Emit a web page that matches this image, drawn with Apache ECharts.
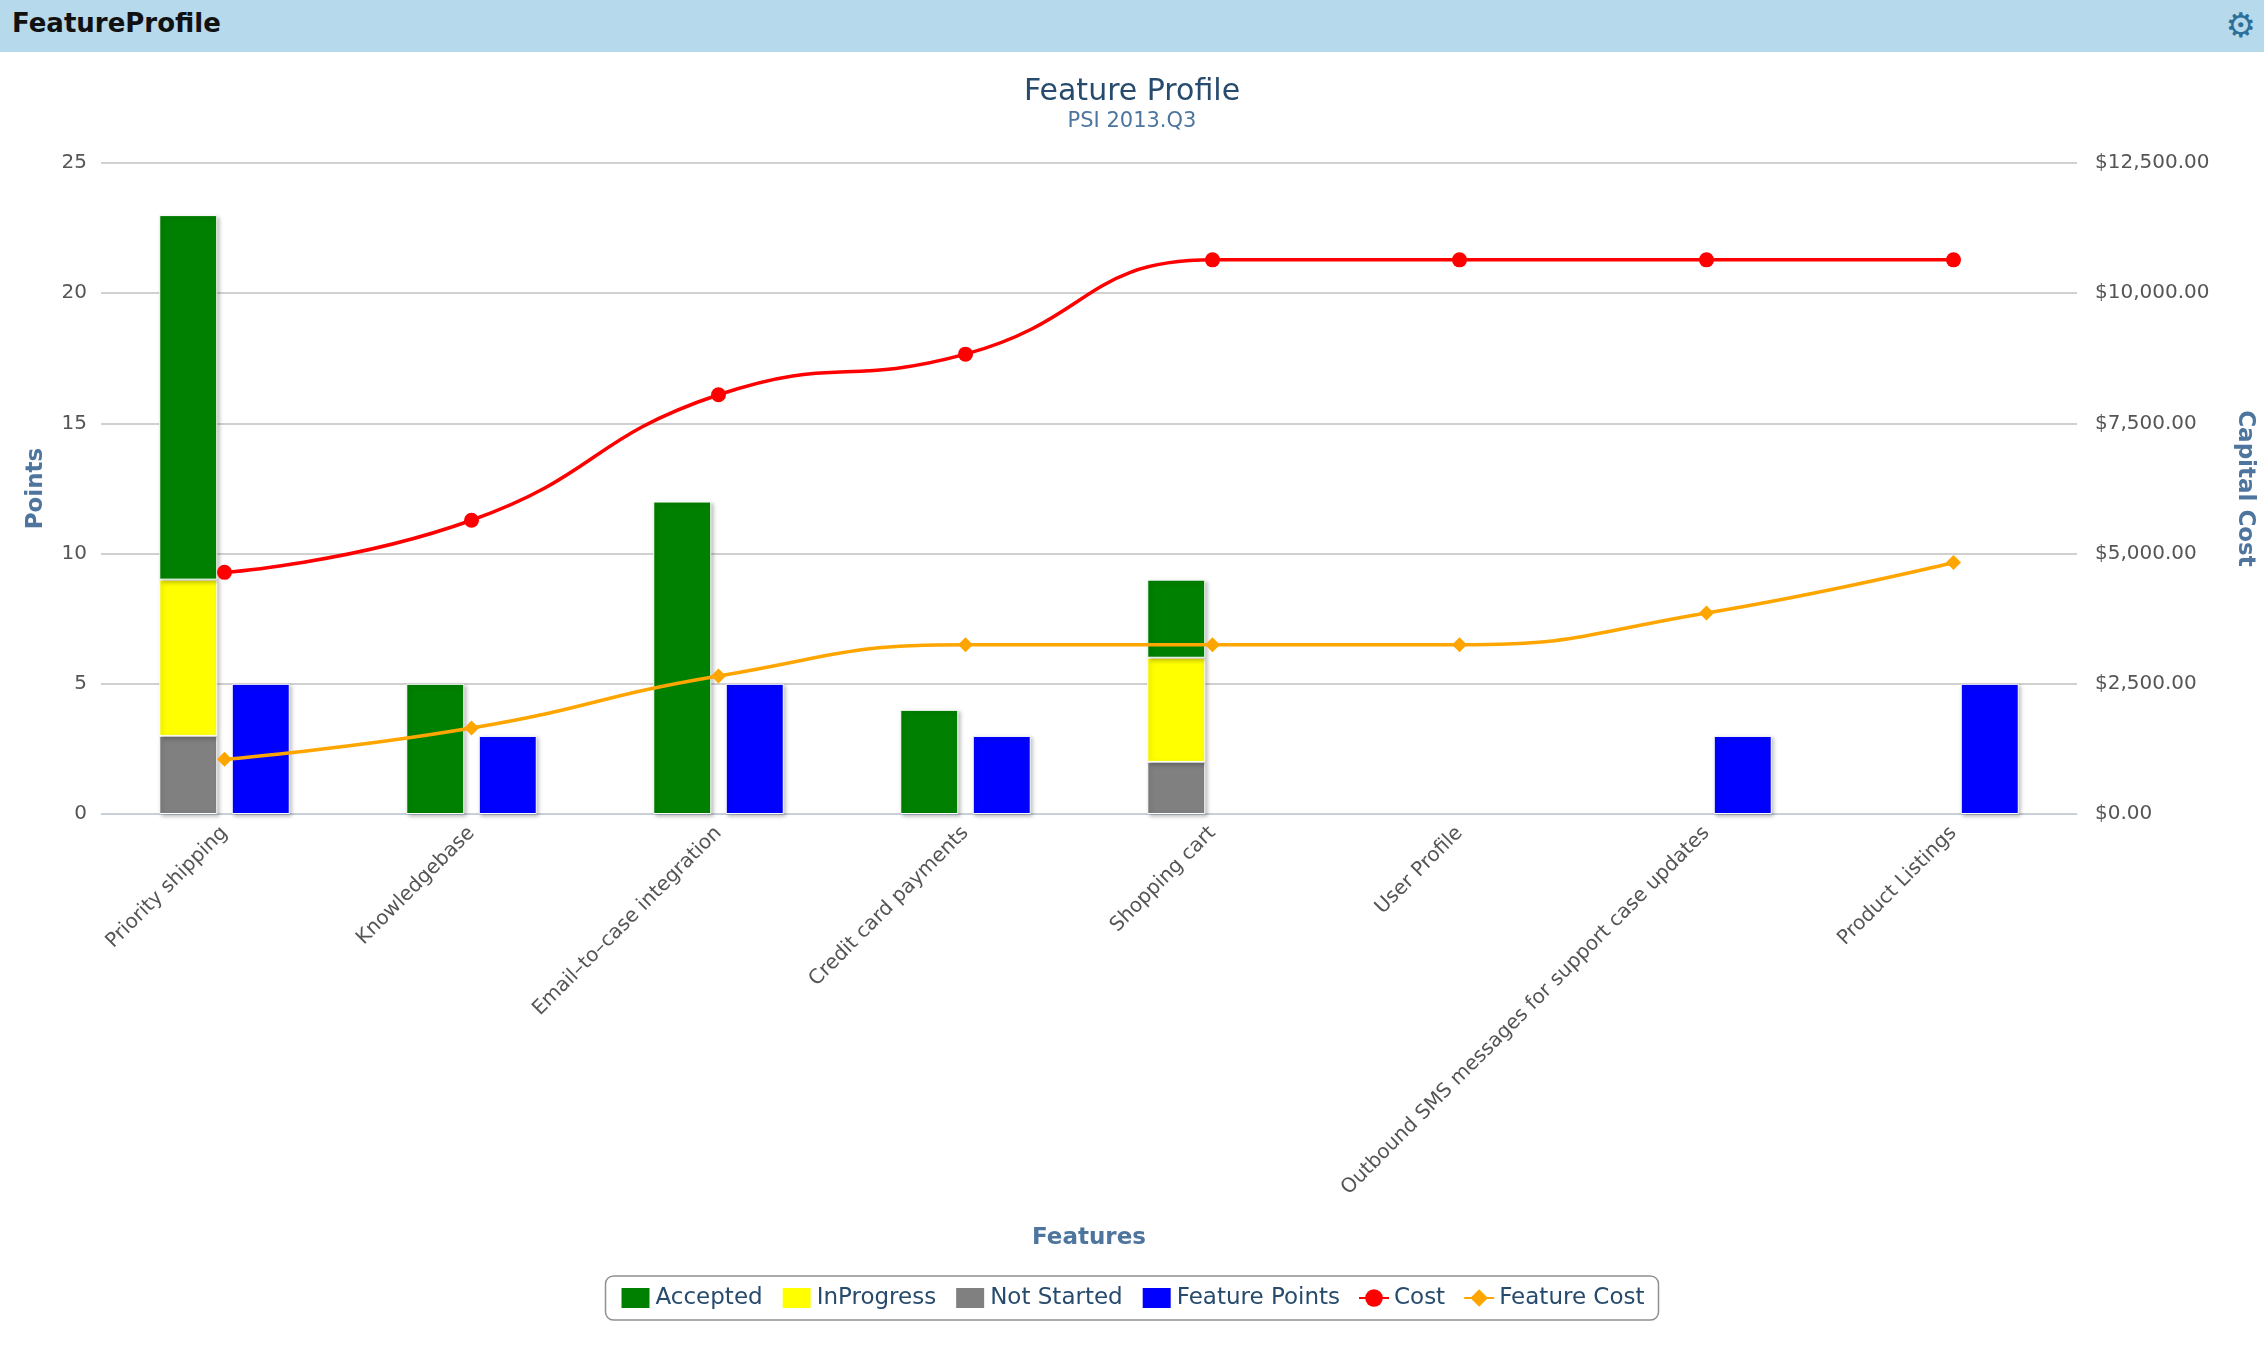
<!DOCTYPE html>
<html>
<head>
<meta charset="utf-8">
<script src="https://cdn.jsdelivr.net/npm/echarts@6/dist/echarts.min.js"></script>
<style>
  html, body { margin: 0; padding: 0; background: #fff; }
  #header { height: 52px; background: #b6d9eb; font: bold 26px 'DejaVu Sans', sans-serif; line-height: 46px; padding-left: 12px; color: #111; position: relative; }
  #gear { position: absolute; right: 8px; top: 2px; font-size: 34px; color: #2d6f99; }
  #chart { width: 2264px; height: 1294px; }
</style>
</head>
<body>
<div id="header">FeatureProfile<span id="gear">⚙</span></div>
<div id="chart"></div>
<script>
const categories = ['Priority shipping', 'Knowledgebase', 'Email–to–case integration', 'Credit card payments',
  'Shopping cart', 'User Profile', 'Outbound SMS messages for support case updates', 'Product Listings']
const accepted = [14, 5, 12, 4, 3, 0, 0, 0]
const inProgress = [6, 0, 0, 0, 4, 0, 0, 0]
const notStarted = [3, 0, 0, 0, 2, 0, 0, 0]
const featurePoints = [5, 3, 5, 3, 0, 0, 3, 5]
const cost = [4640, 5640, 8050, 8830, 10640, 10640, 10640, 10640]
const featureCost = [1050, 1650, 2650, 3250, 3250, 3250, 3860, 4830]

const font = 'DejaVu Sans'
const barItem = { borderColor: '#fff', borderWidth: 1, shadowColor: 'rgba(0,0,0,0.25)', shadowBlur: 4, shadowOffsetX: 2, shadowOffsetY: 2 }
const blank = v => v.map(x => (x === 0 ? '-' : x))

const myChart = echarts.init(document.getElementById('chart'))
const option = {
  animation: false,
  textStyle: { fontFamily: font },
  title: {
    text: 'Feature Profile', subtext: 'PSI 2013.Q3', left: 'center', top: 20, itemGap: 4,
    textStyle: { fontSize: 30, fontWeight: 'normal', color: '#274b6d', fontFamily: font },
    subtextStyle: { fontSize: 21, color: '#4d759e', fontFamily: font }
  },
  legend: {
    bottom: 26, left: 'center', itemWidth: 30, itemHeight: 22, itemGap: 18,
    borderColor: '#909090', borderWidth: 1.5, borderRadius: 8, padding: [10, 14],
    textStyle: { fontSize: 23, color: '#274b6d' },
    data: [
      { name: 'Accepted', icon: 'rect' }, { name: 'InProgress', icon: 'rect' },
      { name: 'Not Started', icon: 'rect' }, { name: 'Feature Points', icon: 'rect' },
      'Cost', 'Feature Cost'
    ]
  },
  grid: { left: 101, right: 187, top: 111, bottom: 532 },
  xAxis: {
    type: 'category', data: categories,
    name: 'Features', nameLocation: 'middle', nameGap: 413,
    nameTextStyle: { fontSize: 23, fontWeight: 'bold', color: '#4d759e' },
    axisLine: { lineStyle: { color: '#c0d0e0' } },
    axisTick: { lineStyle: { color: '#c0d0e0' }, length: 8 },
    axisLabel: { rotate: 45, fontSize: 20, color: '#555', interval: 0, margin: 16 }
  },
  yAxis: [
    {
      type: 'value', min: 0, max: 25, interval: 5,
      name: 'Points', nameLocation: 'middle', nameGap: 53,
      nameTextStyle: { fontSize: 23, fontWeight: 'bold', color: '#4d759e' },
      axisLabel: { fontSize: 20, color: '#555', margin: 14 },
      splitLine: { lineStyle: { color: '#c0c0c0', width: 1.5 } }
    },
    {
      type: 'value', min: 0, max: 12500, interval: 2500,
      name: 'Capital Cost', nameLocation: 'middle', nameGap: 156, nameRotate: -90,
      nameTextStyle: { fontSize: 23, fontWeight: 'bold', color: '#4d759e' },
      axisLabel: { fontSize: 20, color: '#555', margin: 18, formatter: v => '$' + v.toLocaleString('en-US', { minimumFractionDigits: 2 }) },
      splitLine: { show: false }
    }
  ],
  series: [
    { name: 'Not Started', type: 'bar', stack: 'status', data: blank(notStarted), barWidth: 58, barGap: '25%', itemStyle: { color: '#808080', ...barItem } },
    { name: 'InProgress', type: 'bar', stack: 'status', data: blank(inProgress), barWidth: 58, itemStyle: { color: '#ffff00', ...barItem } },
    { name: 'Accepted', type: 'bar', stack: 'status', data: blank(accepted), barWidth: 58, itemStyle: { color: '#008000', ...barItem } },
    { name: 'Feature Points', type: 'bar', data: blank(featurePoints), barWidth: 58, itemStyle: { color: '#0000ff', ...barItem } },
    { name: 'Cost', type: 'line', yAxisIndex: 1, data: cost, smooth: 0.5, symbol: 'circle', symbolSize: 15, lineStyle: { color: '#ff0000', width: 3.5 }, itemStyle: { color: '#ff0000' } },
    { name: 'Feature Cost', type: 'line', yAxisIndex: 1, data: featureCost, smooth: 0.5, symbol: 'diamond', symbolSize: 15, lineStyle: { color: '#ffa500', width: 3.5 }, itemStyle: { color: '#ffa500' } }
  ]
}
myChart.setOption(option)
</script>
</body>
</html>
